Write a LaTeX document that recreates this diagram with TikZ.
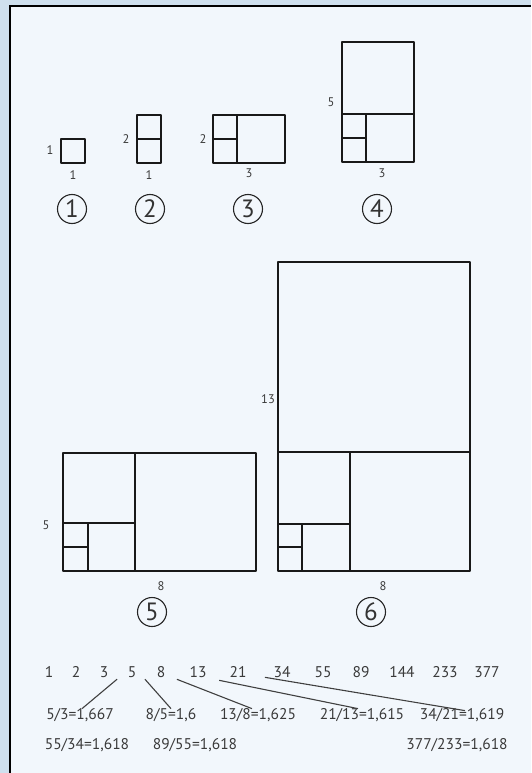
\documentclass[tikz,border=0pt]{standalone}
\usepackage{fontspec}
\setmainfont{PT Sans}
\definecolor{outerbg}{HTML}{CFE0EE}
\definecolor{innerbg}{HTML}{F2F7FC}
\definecolor{ink}{HTML}{3A3A3A}
\tikzset{
  box/.style={line width=1.8pt, draw=black!90, line cap=round, line join=round},
  dimlbl/.style={font=\fontsize{12.5}{14}\selectfont, text=ink, inner sep=0pt},
  num/.style={font=\fontsize{15.5}{18}\selectfont, text=ink, inner sep=0.5pt},
  ratio/.style={font=\fontsize{15.5}{18}\selectfont, text=ink, inner sep=0.5pt},
  stage/.style={circle, draw=black!85, line width=1.1pt, minimum size=29pt, inner sep=0pt,
    font=\fontsize{25}{27}\selectfont, text=black!80},
  link/.style={line width=1.1pt, draw=black!75},
  frame/.style={line width=2.4pt, draw=black}
}
\begin{document}
\begin{tikzpicture}[x=1pt,y=-1pt]
\useasboundingbox (0,0) rectangle (531,773);
\fill[outerbg] (0,0) rectangle (531,773);
\fill[innerbg] (10,6) rectangle (531,773);
\draw[frame] (10,773) -- (10,6) -- (531,6);

% stage 1
\draw[box] (61,139) rectangle (85,163);
\node[dimlbl] (l1a) at (50,150) {1};
\node[dimlbl] (l1b) at (73,175) {1};
\node[stage] (s1) at (72,209) {1};

% stage 2
\draw[box] (137,115) rectangle (161,163);
\draw[box] (137,139) -- (161,139);
\node[dimlbl] (l2a) at (126,139) {2};
\node[dimlbl] (l2b) at (149,175) {1};
\node[stage] (s2) at (150,209) {2};

% stage 3
\draw[box] (213,115) rectangle (285,163);
\draw[box] (237,115) -- (237,163);
\draw[box] (213,139) -- (237,139);
\node[dimlbl] (l3a) at (203,139) {2};
\node[dimlbl] (l3b) at (249,173) {3};
\node[stage] (s3) at (248,209) {3};

% stage 4
\draw[box] (342,42) rectangle (414,162);
\draw[box] (342,114) -- (414,114);
\draw[box] (366,114) -- (366,162);
\draw[box] (342,138) -- (366,138);
\node[dimlbl] (l4a) at (331,102) {5};
\node[dimlbl] (l4b) at (382,173) {3};
\node[stage] (s4) at (377,209) {4};

% stage 5
\draw[box] (63,453) rectangle (256,571);
\draw[box] (135,453) -- (135,571);
\draw[box] (63,523) -- (135,523);
\draw[box] (88,523) -- (88,571);
\draw[box] (63,547) -- (88,547);
\node[dimlbl] (l5a) at (46,525) {5};
\node[dimlbl] (l5b) at (161,586) {8};
\node[stage] (s5) at (152,612) {5};

% stage 6
\draw[box] (278,262) rectangle (470,571);
\draw[box] (278,452) -- (470,452);
\draw[box] (350,452) -- (350,571);
\draw[box] (278,524) -- (350,524);
\draw[box] (302,524) -- (302,571);
\draw[box] (278,547) -- (302,547);
\node[dimlbl] (l6a) at (268,399) {13};
\node[dimlbl] (l6b) at (383,586) {8};
\node[stage] (s6) at (371,612) {6};

% Fibonacci row
\node[num] (n1) at (49,672) {1};
\node[num] (n2) at (76,672) {2};
\node[num] (n3) at (104,672) {3};
\node[num] (n5) at (132,672) {5};
\node[num] (n8) at (161,672) {8};
\node[num] (n13) at (198,672) {13};
\node[num] (n21) at (238,672) {21};
\node[num] (n34) at (282,672) {34};
\node[num] (n55) at (323,672) {55};
\node[num] (n89) at (361,672) {89};
\node[num] (n144) at (402,672) {144};
\node[num] (n233) at (445,672) {233};
\node[num] (n377) at (487,672) {377};

% ratios
\node[ratio] (r1) at (80,715) {5/3=1,667};
\node[ratio] (r2) at (171,715) {8/5=1,6};
\node[ratio] (r3) at (258,715) {13/8=1,625};
\node[ratio] (r4) at (362,715) {21/13=1,615};
\node[ratio] (r5) at (462,715) {34/21=1,619};
\node[ratio] (r6) at (87,745) {55/34=1,618};
\node[ratio] (r7) at (195,745) {89/55=1,618};
\node[ratio] (r8) at (457,745) {377/233=1,618};

% connectors
\draw[link] ([xshift=-10pt,yshift=-1pt]n5.south west) -- ([xshift=2pt,yshift=-1pt]r1.north);
\draw[link] ([xshift=8pt,yshift=-1pt]n5.south east) -- ([yshift=-1pt]r2.north);
\draw[link] ([xshift=11pt,yshift=-1pt]n8.south east) -- ([xshift=-6pt,yshift=-1pt]r3.north);
\draw[link] ([xshift=12pt,yshift=-2pt]n13.south east) -- ([xshift=-4pt,yshift=-1pt]r4.north);
\draw[link] ([xshift=-8pt,yshift=1pt]n34.south west) -- ([xshift=3pt,yshift=-3pt]r5.north);
\end{tikzpicture}
\end{document}
